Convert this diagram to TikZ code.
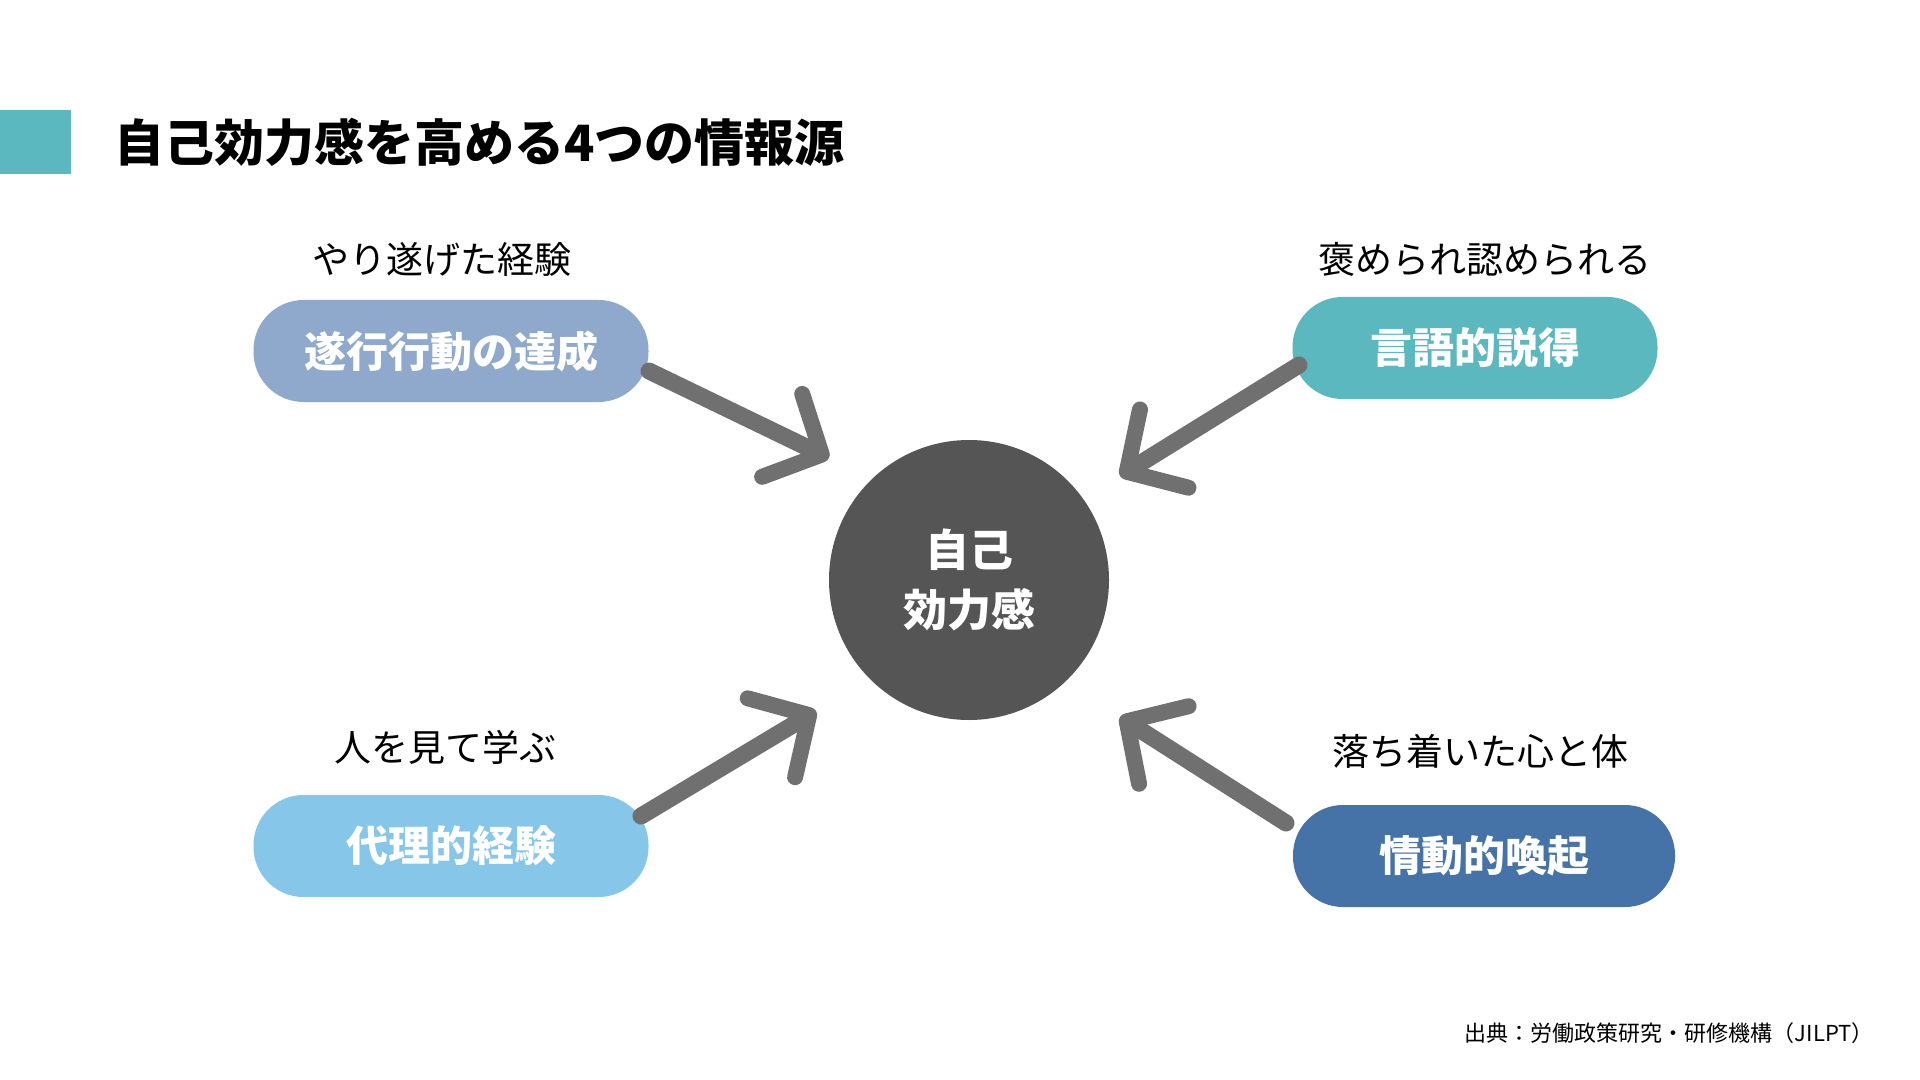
\documentclass[tikz,border=0pt]{standalone}
\usepackage{fontspec}
\setmainfont{Noto Sans CJK JP}
\usetikzlibrary{arrows.meta}
\definecolor{teal1}{HTML}{5BB8BF}
\definecolor{pillA}{HTML}{8EA9CC}
\definecolor{pillC}{HTML}{86C6E8}
\definecolor{pillD}{HTML}{4573A8}
\definecolor{circ}{HTML}{555555}
\definecolor{arr}{HTML}{707070}
\begin{document}
\begin{tikzpicture}[x=0.5pt,y=-0.5pt,
  pill/.style={rounded corners=25pt,minimum width=#1,minimum height=51pt,inner sep=0pt,text=white,font=\fontsize{21}{25}\selectfont\bfseries},
  lab/.style={font=\fontsize{18.5}{22}\selectfont},
  big/.style={draw=arr,line width=8.5pt,line cap=round,-{Straight Barb[length=22pt,width=46pt,line width=8pt,round]}}]
\useasboundingbox[fill=white] (0,0) rectangle (1920,1080);
\fill[teal1] (0,110) rectangle (71,174);
\node[anchor=west,inner sep=0pt,font=\fontsize{25}{30}\selectfont\bfseries] (title) at (114,142) {自己効力感を高める4つの情報源};
\node[pill=197.5pt,fill=pillA] (a) at (451,351) {遂行行動の達成};
\node[pill=182.5pt,fill=teal1] (b) at (1475,348) {言語的説得};
\node[pill=197.5pt,fill=pillC] (c) at (451,846) {代理的経験};
\node[pill=191pt,fill=pillD] (d) at (1484,856) {情動的喚起};
\node[lab] (la) at (442,259) {やり遂げた経験};
\node[lab] (lb) at (1485,259) {褒められ認められる};
\node[lab] (lc) at (445,747) {人を見て学ぶ};
\node[lab] (ld) at (1480,751) {落ち着いた心と体};
\node[circle,fill=circ,minimum size=140pt,inner sep=0pt,text=white,align=center,font=\fontsize{22}{30}\selectfont\bfseries] (m) at (969,580) {自己\\効力感};
\coordinate (a1) at (649,371); \coordinate (a2) at (829,458);
\coordinate (b1) at (1299,365); \coordinate (b2) at (1120,476);
\coordinate (c1) at (641,816); \coordinate (c2) at (816,711);
\coordinate (d1) at (1286,823); \coordinate (d2) at (1120,717);
\draw[big] (a1) -- (a2);
\draw[big] (b1) -- (b2);
\draw[big] (c1) -- (c2);
\draw[big] (d1) -- (d2);
\node[anchor=east,inner sep=0pt,font=\fontsize{11}{13}\selectfont] (src) at (1874,1033) {出典：労働政策研究・研修機構（JILPT）};
\end{tikzpicture}
\end{document}
